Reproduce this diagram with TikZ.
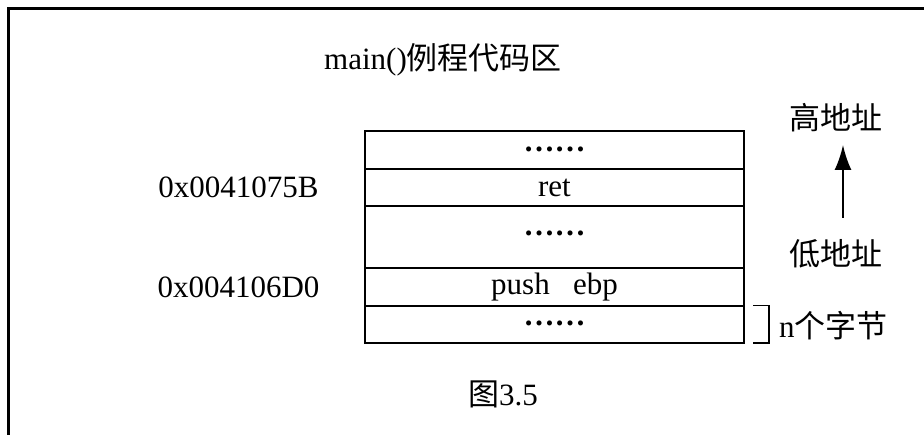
\documentclass[tikz,border=0pt]{standalone}
\usepackage{fontspec}
\setmainfont{Liberation Serif}
\newfontfamily\cjk{Noto Sans CJK SC}
\usetikzlibrary{arrows.meta}
\newcommand{\mydots}{\textbf{……}}
\begin{document}
\begin{tikzpicture}[x=1pt,y=-1pt,
  txt/.style={inner sep=0pt,font=\fontsize{31}{36}\selectfont},
  cell/.style={draw,line width=1.3pt,minimum width=379pt,inner sep=0pt,font=\fontsize{31}{36}\selectfont},
  frame/.style={line width=3pt},
  upar/.style={line width=2pt,-{Latex[length=25pt,width=17pt]}}]
\useasboundingbox (0,0) rectangle (924,435);
\draw[frame] (8.5,435) -- (8.5,9) -- (924,9);
% memory cells
\node[cell,minimum height=38pt] (r1) at (554.5,150) {\raisebox{2pt}{\mydots}};
\node[cell,minimum height=37pt] (r2) at (554.5,187.5) {ret};
\node[cell,minimum height=62pt] (r3) at (554.5,237) {\raisebox{7pt}{\mydots}};
\node[cell,minimum height=38pt] (r4) at (554.5,287) {push\ \ \ ebp};
\node[cell,minimum height=37pt] (r5) at (554.5,324.5) {\raisebox{2pt}{\mydots}};
% labels
\node[txt] (title) at (443,60) {main()\cjk 例程代码区};
\node[txt] (a1) at (238.5,187.5) {0x0041075B};
\node[txt] (a2) at (238.5,287) {0x004106D0};
\node[txt] (fig) at (503,394) {{\cjk 图}3.5};
% bracket
\coordinate (b1) at (753,305.5);
\coordinate (b2) at (753,343);
\draw[line width=1.3pt] (b1) -| (769,343) -- (b2);
\node[txt,anchor=west] (nb) at (779,326) {n{\cjk 个字节}};
% address direction
\node[txt] (hi) at (836,118) {\cjk 高地址};
\node[txt] (lo) at (836,254) {\cjk 低地址};
\coordinate (ab) at (843,218);
\coordinate (at) at (843,145);
\draw[upar] (ab) -- (at);
\end{tikzpicture}
\end{document}
